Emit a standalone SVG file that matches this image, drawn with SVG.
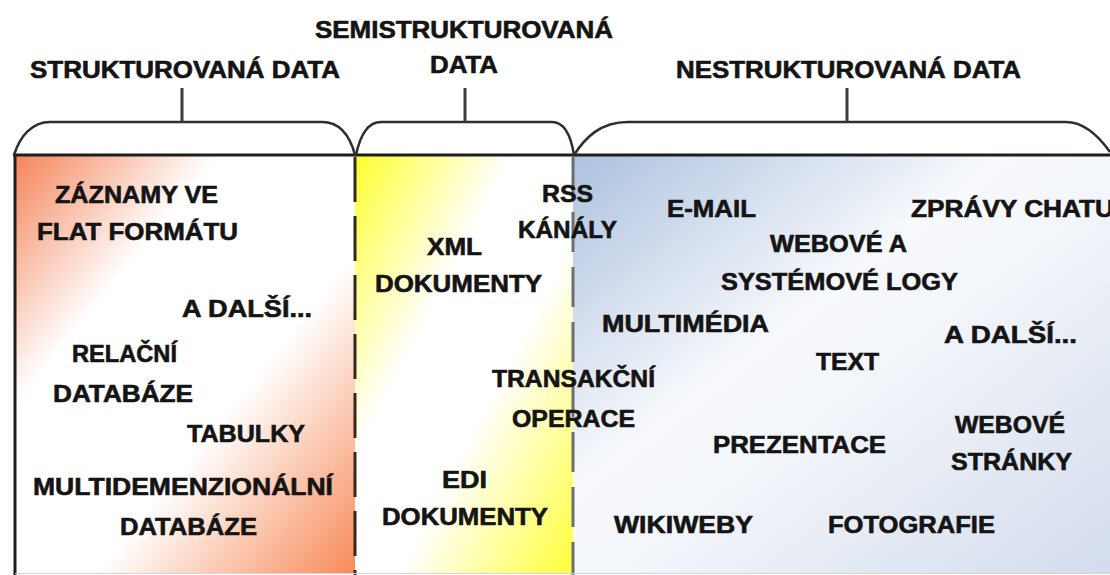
<svg xmlns="http://www.w3.org/2000/svg" width="1110" height="575" viewBox="0 0 1110 575">
  <style>
    text { font-family: "Liberation Sans", Arial, sans-serif; font-weight: bold; font-size: 23.5px; fill: #141414; stroke: #141414; stroke-width: 0.6; }
    .brace { fill: none; stroke: #2e2e2e; stroke-width: 2.5; }
    .tick { stroke: #3c3c3c; stroke-width: 3; }
    .frame { stroke: #1e1e1e; stroke-width: 3; fill: none; }
  </style>
  <defs>
    <linearGradient id="gOrange" x1="0" y1="0" x2="1" y2="1">
      <stop offset="0" stop-color="#f4845a"/>
      <stop offset="0.3" stop-color="#ffffff"/>
      <stop offset="0.62" stop-color="#ffffff"/>
      <stop offset="1" stop-color="#f78a58"/>
    </linearGradient>
    <linearGradient id="gYellow" x1="0" y1="0" x2="1" y2="1">
      <stop offset="0" stop-color="#ffff2e"/>
      <stop offset="0.36" stop-color="#ffffff"/>
      <stop offset="0.6" stop-color="#ffffff"/>
      <stop offset="1" stop-color="#ffff3a"/>
    </linearGradient>
    <linearGradient id="gBlue" x1="0" y1="0" x2="1" y2="1">
      <stop offset="0" stop-color="#adc1df"/>
      <stop offset="0.4" stop-color="#f7f9fc"/>
      <stop offset="0.55" stop-color="#f2f5fa"/>
      <stop offset="1" stop-color="#d3dcec"/>
    </linearGradient>
  </defs>

  <rect width="1110" height="575" fill="#ffffff"/>

  <!-- panel fills -->
  <rect x="15" y="155" width="340" height="418" fill="url(#gOrange)"/>
  <rect x="355" y="155" width="218" height="418" fill="url(#gYellow)"/>
  <rect x="573" y="155" width="537" height="418" fill="url(#gBlue)"/>

  <!-- frame lines -->
  <g id="frame">
    <line class="frame" x1="13" y1="155" x2="1110" y2="155"/>
    <line class="frame" x1="15" y1="155" x2="15" y2="575"/>
    <line x1="355" y1="157" x2="355" y2="575" stroke="#35281e" stroke-width="3" stroke-dasharray="45 14"/>
    <line x1="573" y1="157" x2="573" y2="575" stroke="#6e6e6e" stroke-width="3" stroke-dasharray="40 15"/>
    <line x1="15" y1="573.5" x2="1110" y2="573.5" stroke="#d4d4d4" stroke-width="1"/>
  </g>

  <!-- braces with their label ticks -->
  <g id="connectors">
    <path class="brace" d="M 14 155 C 20 136 32 122 50 122 L 322 122 C 340 122 350 136 355 155"/>
    <path class="brace" d="M 356 155 C 360 136 368 122 381 122 L 552 122 C 564 122 571 136 574 155"/>
    <path class="brace" d="M 574 155 C 585 138 600 122 628 122 L 1066 122 C 1085 122 1100 138 1110 152"/>
    <line class="tick" x1="182" y1="88" x2="182" y2="122"/>
    <line class="tick" x1="465" y1="88" x2="465" y2="122"/>
    <line class="tick" x1="847" y1="88" x2="847" y2="122"/>
  </g>

  <!-- category headings -->
  <g id="head-structured">
    <text x="30" y="78" textLength="310" lengthAdjust="spacingAndGlyphs">STRUKTUROVANÁ DATA</text>
  </g>
  <g id="head-semistructured">
    <text x="315" y="38" textLength="298" lengthAdjust="spacingAndGlyphs">SEMISTRUKTUROVANÁ</text>
    <text x="430" y="73" textLength="68" lengthAdjust="spacingAndGlyphs">DATA</text>
  </g>
  <g id="head-unstructured">
    <text x="676" y="78" textLength="345" lengthAdjust="spacingAndGlyphs">NESTRUKTUROVANÁ DATA</text>
  </g>

  <!-- structured data items -->
  <g id="structured">
    <text x="55" y="203" textLength="163" lengthAdjust="spacingAndGlyphs">ZÁZNAMY VE</text>
    <text x="37" y="240" textLength="201" lengthAdjust="spacingAndGlyphs">FLAT FORMÁTU</text>
    <text x="182" y="317" textLength="130" lengthAdjust="spacingAndGlyphs">A DALŠÍ...</text>
    <text x="72" y="362" textLength="105" lengthAdjust="spacingAndGlyphs">RELAČNÍ</text>
    <text x="53" y="402" textLength="140" lengthAdjust="spacingAndGlyphs">DATABÁZE</text>
    <text x="187" y="442" textLength="118" lengthAdjust="spacingAndGlyphs">TABULKY</text>
    <text x="33" y="495" textLength="300" lengthAdjust="spacingAndGlyphs">MULTIDEMENZIONÁLNÍ</text>
    <text x="120" y="535" textLength="137" lengthAdjust="spacingAndGlyphs">DATABÁZE</text>
  </g>

  <!-- semi-structured data items -->
  <g id="semistructured">
    <text x="542" y="202" textLength="51" lengthAdjust="spacingAndGlyphs">RSS</text>
    <text x="518" y="238" textLength="99" lengthAdjust="spacingAndGlyphs">KÁNÁLY</text>
    <text x="427" y="255" textLength="55" lengthAdjust="spacingAndGlyphs">XML</text>
    <text x="375" y="292" textLength="167" lengthAdjust="spacingAndGlyphs">DOKUMENTY</text>
    <text x="492" y="387" textLength="163" lengthAdjust="spacingAndGlyphs">TRANSAKČNÍ</text>
    <text x="512" y="427" textLength="123" lengthAdjust="spacingAndGlyphs">OPERACE</text>
    <text x="442" y="488" textLength="45" lengthAdjust="spacingAndGlyphs">EDI</text>
    <text x="382" y="525" textLength="166" lengthAdjust="spacingAndGlyphs">DOKUMENTY</text>
  </g>

  <!-- unstructured data items -->
  <g id="unstructured">
    <text x="667" y="217" textLength="89" lengthAdjust="spacingAndGlyphs">E-MAIL</text>
    <text x="911" y="217" textLength="203" lengthAdjust="spacingAndGlyphs">ZPRÁVY CHATU</text>
    <text x="770" y="252" textLength="137" lengthAdjust="spacingAndGlyphs">WEBOVÉ A</text>
    <text x="721" y="290" textLength="237" lengthAdjust="spacingAndGlyphs">SYSTÉMOVÉ LOGY</text>
    <text x="602" y="332" textLength="167" lengthAdjust="spacingAndGlyphs">MULTIMÉDIA</text>
    <text x="944" y="343" textLength="133" lengthAdjust="spacingAndGlyphs">A DALŠÍ...</text>
    <text x="816" y="370" textLength="63" lengthAdjust="spacingAndGlyphs">TEXT</text>
    <text x="955" y="433" textLength="110" lengthAdjust="spacingAndGlyphs">WEBOVÉ</text>
    <text x="951" y="470" textLength="121" lengthAdjust="spacingAndGlyphs">STRÁNKY</text>
    <text x="713" y="453" textLength="173" lengthAdjust="spacingAndGlyphs">PREZENTACE</text>
    <text x="614" y="533" textLength="139" lengthAdjust="spacingAndGlyphs">WIKIWEBY</text>
    <text x="828" y="533" textLength="167" lengthAdjust="spacingAndGlyphs">FOTOGRAFIE</text>
  </g>
</svg>
